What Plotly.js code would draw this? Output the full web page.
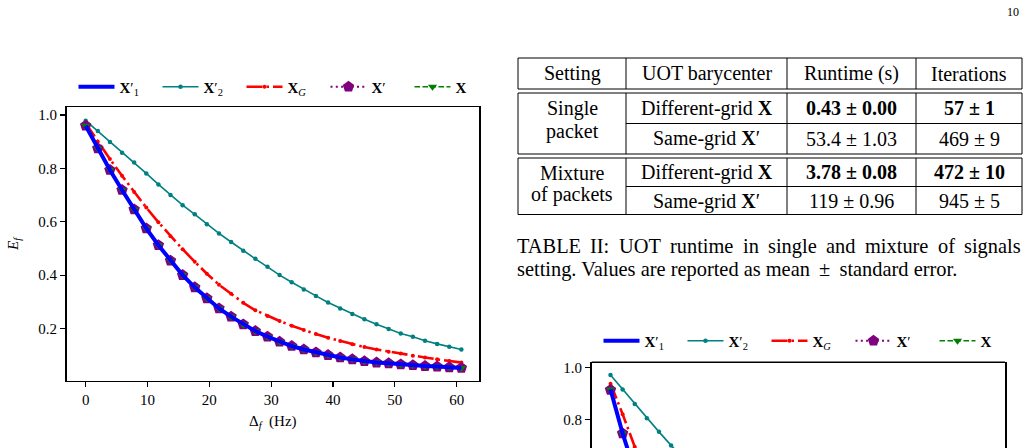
<!DOCTYPE html>
<html>
<head>
<meta charset="utf-8">
<script src="https://cdn.plot.ly/plotly-3.0.1.min.js"></script>
<style>
  html, body { margin: 0; padding: 0; background: #fff; overflow: hidden; }
  #chart { width: 1029px; height: 448px; }
</style>
</head>
<body>
<div id="chart"></div>
<script>
// ---- Panel (a): fidelity E_f versus frequency offset Δf ----
const deltaF = [0, 1.96, 3.92, 5.88, 7.84, 9.8, 11.76, 13.72, 15.68, 17.64, 19.6, 21.56,
  23.52, 25.48, 27.44, 29.4, 31.36, 33.32, 35.28, 37.24, 39.2, 41.16, 43.12, 45.08,
  47.04, 49.0, 50.96, 52.92, 54.88, 56.84, 58.8, 60.76];

const efX1 = [0.960, 0.875, 0.794, 0.719, 0.646, 0.575, 0.512, 0.454, 0.400, 0.354, 0.313, 0.275,
  0.244, 0.215, 0.190, 0.169, 0.150, 0.134, 0.121, 0.110, 0.100, 0.091, 0.084, 0.077,
  0.072, 0.069, 0.065, 0.062, 0.059, 0.057, 0.054, 0.052];
const efX2 = [0.979, 0.940, 0.899, 0.859, 0.822, 0.781, 0.740, 0.700, 0.662, 0.628, 0.591, 0.556,
  0.524, 0.491, 0.461, 0.431, 0.400, 0.373, 0.346, 0.322, 0.297, 0.275, 0.254, 0.234,
  0.216, 0.198, 0.181, 0.169, 0.154, 0.142, 0.131, 0.121];
const efXG = [0.969, 0.900, 0.835, 0.772, 0.711, 0.653, 0.598, 0.546, 0.497, 0.450, 0.405, 0.364,
  0.330, 0.296, 0.268, 0.247, 0.228, 0.210, 0.194, 0.179, 0.165, 0.153, 0.141, 0.130,
  0.121, 0.113, 0.106, 0.098, 0.091, 0.084, 0.078, 0.072];
const efXprime = [0.960, 0.875, 0.794, 0.719, 0.646, 0.575, 0.512, 0.454, 0.400, 0.354, 0.313, 0.275,
  0.244, 0.215, 0.190, 0.169, 0.150, 0.134, 0.121, 0.110, 0.100, 0.091, 0.084, 0.077,
  0.072, 0.069, 0.065, 0.062, 0.059, 0.057, 0.054, 0.052];
const efX = [0.960, 0.875, 0.794, 0.719, 0.646, 0.575, 0.512, 0.454, 0.400, 0.354, 0.313, 0.275,
  0.244, 0.215, 0.190, 0.169, 0.150, 0.134, 0.121, 0.110, 0.100, 0.091, 0.084, 0.077,
  0.072, 0.069, 0.065, 0.062, 0.059, 0.057, 0.054, 0.052];

const xTicks = [0, 10, 20, 30, 40, 50, 60];
const yTicks = [0.2, 0.4, 0.6, 0.8, 1.0];

// ---- Panel (b): top of the second fidelity plot ----
const deltaF2 = [0, 1.96, 3.92, 5.88, 7.84, 9.8, 11.76];
const ef2X1 = [0.915, 0.746, 0.600];
const ef2X2 = [0.970, 0.915, 0.859, 0.804, 0.752, 0.700, 0.650];
const ef2XG = [0.937, 0.820, 0.695, 0.590];
const ef2Xprime = [0.913, 0.746, 0.600];
const ef2X = [0.915, 0.746, 0.600];
const yTicks2 = [0.8, 1.0];

// ---- Table II ----
const tableHeader = ["Setting", "UOT barycenter", "Runtime (s)", "Iterations"];
const settingNames = [["Single", "packet"], ["Mixture", "of packets"]];
const methodNames = ["Different-grid <b>X</b>", "Same-grid <b>X</b>′"];
const runtimeVals = [["0.43 ± 0.00", "53.4 ± 1.03"], ["3.78 ± 0.08", "119 ± 0.96"]];
const iterationVals = [["57 ± 1", "469 ± 9"], ["472 ± 10", "945 ± 5"]];
const captionLine1 = "TABLE II: UOT runtime in single and mixture of signals";
const captionLine2 = "setting. Values are reported as mean \u2009±\u2009 standard error.";
const pageNumber = "10";

const W = 1029, H = 448;
const SERIF = "Liberation Serif, Times New Roman, serif";
const px = x => x / W;
const py = y => 1 - y / H;

const names = {
  x1: "<b>X</b>′<sub>1</sub>",
  x2: "<b>X</b>′<sub>2</sub>",
  xg: "<b>X</b><sub><i>G</i></sub>",
  xp: "<b>X</b>′",
  x:  "<b>X</b>"
};

function series(xs, ys, key, style, axis, legend) {
  return Object.assign({
    x: xs.slice(0, ys.length), y: ys, name: names[key], type: "scatter",
    xaxis: axis[0], yaxis: axis[1], legend: legend, cliponaxis: true
  }, style);
}

const styles = {
  x2: { mode: "lines+markers", line: { color: "#008080", width: 1.6 },
        marker: { symbol: "circle", size: 4.5, color: "#008080" }, legendrank: 2 },
  xg: { mode: "lines+markers", line: { color: "#ff0000", width: 2.6, dash: "16px,4px,2.5px,4px" },
        marker: { symbol: "circle", size: 4, color: "#ff0000" }, legendrank: 3 },
  xp: { mode: "lines+markers", line: { color: "#800080", width: 2, dash: "2px,3.3px" },
        marker: { symbol: "pentagon", size: 12, color: "#800080" }, legendrank: 4 },
  x:  { mode: "lines+markers", line: { color: "#008000", width: 1.6, dash: "5.5px,2.5px" },
        marker: { symbol: "triangle-down", size: 8, color: "#008000" }, legendrank: 5 },
  x1: { mode: "lines", line: { color: "#0000ff", width: 4 }, legendrank: 1 }
};

const ax1 = ["x", "y"], ax2 = ["x2", "y2"];
const traces = [
  series(deltaF, efX2, "x2", styles.x2, ax1, "legend"),
  series(deltaF, efXG, "xg", styles.xg, ax1, "legend"),
  series(deltaF, efXprime, "xp", styles.xp, ax1, "legend"),
  series(deltaF, efX, "x", styles.x, ax1, "legend"),
  series(deltaF, efX1, "x1", styles.x1, ax1, "legend"),
  series(deltaF2, ef2X2, "x2", styles.x2, ax2, "legend2"),
  series(deltaF2, ef2XG, "xg", styles.xg, ax2, "legend2"),
  series(deltaF2, ef2Xprime, "xp", styles.xp, ax2, "legend2"),
  series(deltaF2, ef2X, "x", styles.x, ax2, "legend2"),
  series(deltaF2, ef2X1, "x1", styles.x1, ax2, "legend2")
];

const tickFont = { family: SERIF, size: 15, color: "#000" };
const axisBase = { showgrid: false, zeroline: false, showline: true, linecolor: "#000",
  linewidth: 1.6, mirror: true, ticks: "outside", ticklen: 5, tickwidth: 1.1,
  tickcolor: "#000", tickfont: tickFont, fixedrange: true };

// ---- table drawing ----
const colX = [518, 626, 787, 916, 1022];
const shapes = [];
function hline(x0, x1, y) {
  shapes.push({ type: "line", xref: "paper", yref: "paper", x0: px(x0), x1: px(x1),
    y0: py(y), y1: py(y), line: { color: "#000", width: 1 } });
}
function vline(x, y0, y1) {
  shapes.push({ type: "line", xref: "paper", yref: "paper", x0: px(x), x1: px(x),
    y0: py(y0), y1: py(y1), line: { color: "#000", width: 1 } });
}
function box(top, bottom, mid) {
  hline(colX[0], colX[4], top);
  hline(colX[0], colX[4], bottom);
  if (mid !== undefined) hline(colX[1], colX[4], mid);
  colX.forEach(x => vline(x, top, bottom));
}
box(58, 89);
box(93, 154, 123.5);
box(158, 214.5, 186.5);

// top edge of the second plot frame
shapes.push({ type: "line", xref: "x2 domain", yref: "y2 domain", x0: 0, x1: 1, y0: 1, y1: 1,
  line: { color: "#000", width: 1.6 } });

const annotations = [];
function txt(text, x, y, opts) {
  annotations.push(Object.assign({ text: text, x: px(x), y: py(y), xref: "paper", yref: "paper",
    showarrow: false, xanchor: "center", yanchor: "middle",
    font: { family: SERIF, size: 20, color: "#000" } }, opts || {}));
}
const colCenter = i => (colX[i] + colX[i + 1]) / 2;
tableHeader.forEach((h, i) => txt(h, colCenter(i), 73.5));
const groupRows = [[108, 138.5], [172.5, 201]];
const settingLines = [[108, 131.5], [173, 194]];
settingNames.forEach((lines, g) => {
  lines.forEach((l, j) => txt(l, colCenter(0), settingLines[g][j]));
  methodNames.forEach((m, r) => {
    const y = groupRows[g][r];
    txt(m, colCenter(1), y);
    const bold = r === 0;
    txt(bold ? "<b>" + runtimeVals[g][r] + "</b>" : runtimeVals[g][r], colCenter(2), y);
    txt(bold ? "<b>" + iterationVals[g][r] + "</b>" : iterationVals[g][r], colCenter(3), y);
  });
});

// caption: first line fully justified between the table edges
const PAD = 3; // annotation box padding before the glyphs
const CAP = 20.4;
(function () {
  const ctx = document.createElement("canvas").getContext("2d");
  ctx.font = CAP + "px 'Liberation Serif'";
  const words = captionLine1.split(" ");
  const widths = words.map(w => ctx.measureText(w).width);
  const total = widths.reduce((a, b) => a + b, 0);
  const gap = (colX[4] - colX[0] - total) / (words.length - 1);
  let x = colX[0];
  words.forEach((w, i) => {
    txt(w, x - PAD, 246, { xanchor: "left", font: { family: SERIF, size: CAP, color: "#000" } });
    x += widths[i] + gap;
  });
})();
txt(captionLine2, colX[0] - PAD, 269, { xanchor: "left", font: { family: SERIF, size: CAP, color: "#000" } });
txt(pageNumber, 1013, 12, { font: { family: SERIF, size: 12, color: "#000" } });

// axis labels of the first plot
txt("<i>E</i><sub><i>f</i></sub>", 14, 244, { textangle: -90, font: { family: SERIF, size: 15, color: "#000" } });
txt("Δ<sub><i>f</i></sub>  (Hz)", 273, 422, { font: { family: SERIF, size: 15, color: "#000" } });

const legendBase = { orientation: "h", xanchor: "left", yanchor: "middle",
  font: { family: SERIF, size: 15, color: "#000" }, bgcolor: "rgba(0,0,0,0)",
  itemwidth: 36, entrywidth: 33, entrywidthmode: "pixels",
  itemclick: false, itemdoubleclick: false };

const layout = {
  width: W, height: H,
  margin: { l: 0, r: 0, t: 0, b: 0, autoexpand: false },
  paper_bgcolor: "#fff", plot_bgcolor: "#fff",
  showlegend: true,
  xaxis: Object.assign({}, axisBase, { domain: [px(66.7), px(479.3)], range: [-3.07, 63.66],
    tickvals: xTicks, anchor: "y" }),
  yaxis: Object.assign({}, axisBase, { domain: [py(380.7), py(107.3)], range: [0.004, 1.029],
    tickvals: yTicks, tickformat: ".1f", anchor: "x" }),
  xaxis2: Object.assign({}, axisBase, { domain: [px(591.7), px(1005)], range: [-3.04, 63.8],
    showline: false, ticks: "", showticklabels: false, anchor: "y2" }),
  yaxis2: Object.assign({}, axisBase, { domain: [0, py(362.3)], range: [0.690, 1.019],
    tickvals: yTicks2, tickformat: ".1f", anchor: "x2" }),
  legend: Object.assign({}, legendBase, { x: px(73.5), y: py(87) }),
  legend2: Object.assign({}, legendBase, { x: px(598.5), y: py(341) }),
  shapes: shapes,
  annotations: annotations
};

Plotly.newPlot("chart", traces, layout, { displayModeBar: false, staticPlot: true });
</script>
</body>
</html>
